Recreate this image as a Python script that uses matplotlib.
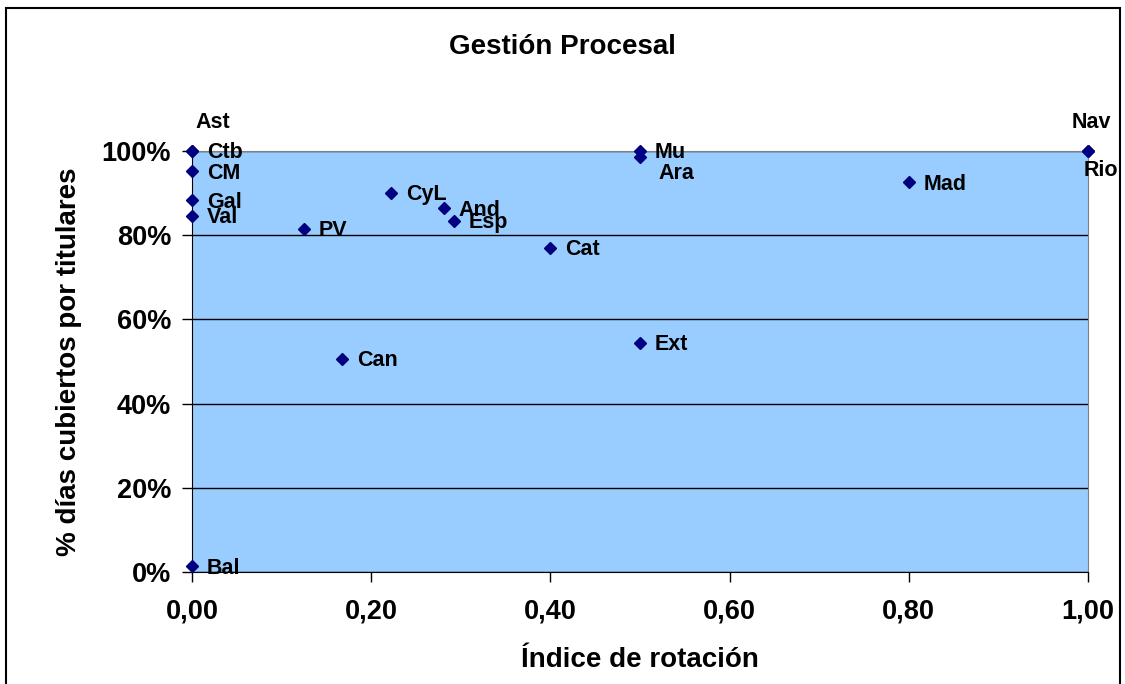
import numpy as np
import matplotlib
matplotlib.use("Agg")
import matplotlib.pyplot as plt
from matplotlib.ticker import FuncFormatter, MultipleLocator
from matplotlib.patches import Rectangle

plt.rcParams['font.family'] = ['Liberation Sans', 'DejaVu Sans']

# regiones: indice de rotacion vs % dias cubiertos por titulares
regiones = ['Ast', 'Ctb', 'CM', 'Gal', 'Val', 'PV', 'CyL', 'And', 'Esp', 'Cat',
            'Mu', 'Ara', 'Mad', 'Nav', 'Rio', 'Can', 'Ext', 'Bal']
rotacion = [0.0, 0.0, 0.0, 0.0, 0.0, 0.125, 0.222, 0.281, 0.292, 0.40,
            0.50, 0.50, 0.80, 1.0, 1.0, 0.167, 0.50, 0.0]
cubiertos = [100.0, 100.0, 95.2, 88.3, 84.6, 81.5, 90.1, 86.4, 83.4, 77.0,
             100.0, 98.5, 92.6, 100.0, 100.0, 50.6, 54.4, 1.4]

# desplazamiento de cada etiqueta (px), alineacion horizontal
offsets = {'Ast': (3, 29, 'left'), 'Nav': (3, 29, 'center'), 'Rio': (13, -19, 'center'),
           'Ara': (18, -16, 'left')}

fig = plt.figure(figsize=(11.25, 6.84), dpi=100)
ax = fig.add_axes([192 / 1125, 1 - 572 / 684, 896 / 1125, 421 / 684])

ax.set_facecolor('#99CCFF')
ax.set_xlim(0, 1)
ax.set_ylim(0, 100)
ax.xaxis.set_major_locator(MultipleLocator(0.2))
ax.yaxis.set_major_locator(MultipleLocator(20))
ax.xaxis.set_major_formatter(FuncFormatter(lambda v, p: f'{v:.2f}'.replace('.', ',')))
ax.yaxis.set_major_formatter(FuncFormatter(lambda v, p: f'{v:.0f}%'))
ax.grid(axis='y', color='black', lw=1)
ax.set_axisbelow(True)
ax.tick_params(direction='out', length=7, width=1, labelsize=19.5)
ax.tick_params(axis='x', pad=12)
ax.tick_params(axis='y', pad=8)
for lab in ax.get_xticklabels() + ax.get_yticklabels():
    lab.set_fontweight('bold')
ax.spines['top'].set_color('#808080')
ax.spines['right'].set_color('#808080')
ax.spines['left'].set_color('black')
ax.spines['bottom'].set_color('black')

ax.plot(rotacion, cubiertos, 'D', color='#000080', markersize=6.5, clip_on=False, zorder=5)

px = 72 / fig.dpi
for nombre, x, y in zip(regiones, rotacion, cubiertos):
    dx, dy, ha = offsets.get(nombre, (15, -2, 'left'))
    ax.annotate(nombre, (x, y), xytext=(dx * px, dy * px), textcoords='offset points',
                ha=ha, va='center', fontsize=15.5, fontweight='bold',
                annotation_clip=False, zorder=6)

fig.text(0.5, 1 - 47 / 684, 'Gestión Procesal', ha='center', va='center',
         fontsize=20, fontweight='bold')
ax.set_xlabel('Índice de rotación', fontsize=20, fontweight='bold', labelpad=16)
ax.set_ylabel('% días cubiertos por titulares', fontsize=20, fontweight='bold', labelpad=14)

fig.patches.append(Rectangle((6 / 1125, -0.05), 1114 / 1125, 1.05 - 8 / 684,
                             transform=fig.transFigure, fill=False, ec='black', lw=1.5))

fig.savefig('out.png', dpi=100)
